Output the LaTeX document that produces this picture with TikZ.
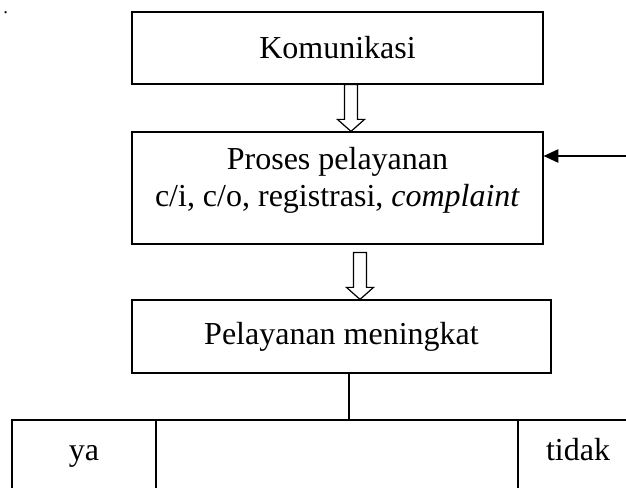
\documentclass[tikz,border=0pt]{standalone}
\usepackage{fontspec}
\setmainfont{Liberation Serif}
\usetikzlibrary{arrows.meta,calc}

\tikzset{
	kotak/.style={draw,line width=0.9pt,minimum width=308.25pt,inner sep=0pt},
	garis/.style={line width=0.9pt},
	panahblok/.style={draw,line width=0.9pt,fill=white},
}
\newcommand{\panahkosong}[2]{%
	\draw[panahblok] ($(#1)+(-6.5,0)$) -- ($(#2)+(-6.5,-12)$) -- ($(#2)+(-13.5,-12)$) -- (#2) -- ($(#2)+(13.5,-12)$) -- ($(#2)+(6.5,-12)$) -- ($(#1)+(6.5,0)$) -- cycle;}

\begin{document}
\begin{tikzpicture}[x=0.75pt,y=0.75pt,yscale=-1,font=\fontsize{24}{27.75}\selectfont]
			\useasboundingbox (0,0) rectangle (626,488);
			\clip (0,0) rectangle (626,488);

			\node[inner sep=0pt,anchor=base west,font=\fontsize{14}{14}\selectfont] (titik) at (3,14) {.};
			\node[kotak,minimum height=54pt] (komunikasi) at (337.5,48) {Komunikasi};
			\node[kotak,minimum height=84pt] (proses) at (337.5,188) {};
			\node[align=center,anchor=north,inner sep=0pt] (prosesteks) at ($(proses.north)+(0,16)$) {Proses pelayanan\\c/i, c/o, registrasi, \textit{complaint}};
			\node[kotak,minimum width=314.25pt,minimum height=54.75pt] (meningkat) at (341.5,336.5) {Pelayanan meningkat};
			\node[anchor=base] (ya) at (84,461) {ya};
			\node[anchor=base] (tidak) at (578,461) {tidak};

			\coordinate (a1) at ($(komunikasi.south)+(13.5,0)$);
			\coordinate (a1t) at ($(proses.north)+(13.5,0)$);
			\coordinate (a2) at ($(proses.south)+(22.5,8)$);
			\coordinate (a2t) at ($(meningkat.north)+(18.5,0)$);
			\coordinate (cabang) at ($(meningkat.south)+(7.5,0)$);
			\coordinate (umpan) at (626,156);
			\coordinate (kiri) at (12,420);
			\coordinate (kanan) at (626,420);

			\panahkosong{a1}{a1t}
			\panahkosong{a2}{a2t}
			\draw[garis,-{Triangle[length=11pt,width=10pt]}] (umpan) -- (proses.north east |- umpan);
			\draw[garis] (cabang) -- (cabang |- kiri);
			\draw[garis] (kiri |- 0,488) -- (kiri) -- (kanan);
			\draw[garis] (156,420) -- (156,488);
			\draw[garis] (518,420) -- (518,488);
\end{tikzpicture}
\end{document}
